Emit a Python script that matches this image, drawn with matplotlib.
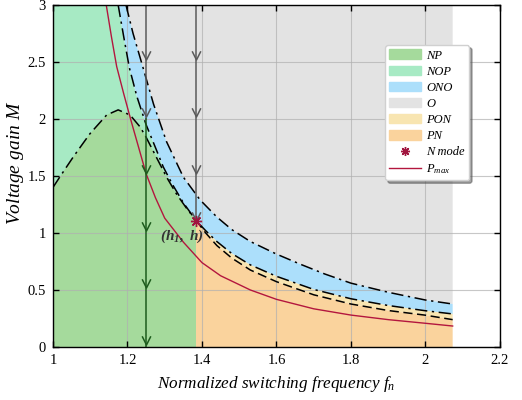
import numpy as np
import matplotlib
matplotlib.use('Agg')
import matplotlib.pyplot as plt
from matplotlib.path import Path
from matplotlib.patches import Patch
from matplotlib.lines import Line2D

plt.rcParams['font.family'] = 'Liberation Serif'
plt.rcParams['mathtext.fontset'] = 'custom'
plt.rcParams['mathtext.rm'] = 'Liberation Serif'
plt.rcParams['mathtext.it'] = 'Liberation Serif:italic'
plt.rcParams['mathtext.bf'] = 'Liberation Serif:italic:bold'

# O / ONO boundary
c1_x = [1.196, 1.215, 1.24, 1.27, 1.305, 1.35, 1.395, 1.44, 1.48, 1.53, 1.60,
        1.665, 1.73, 1.80, 1.90, 2.00, 2.073]
c1_m = [3.0, 2.75, 2.47, 2.13, 1.80, 1.49, 1.29, 1.14, 1.03, 0.925, 0.815,
        0.725, 0.64, 0.56, 0.48, 0.412, 0.377]
# ONO lower boundary
c2_x = [1.175, 1.19, 1.205, 1.225, 1.25, 1.275, 1.296, 1.32, 1.35, 1.384, 1.41,
        1.44, 1.48, 1.53, 1.60, 1.70, 1.80, 1.90, 2.00, 2.073]
c2_m = [3.0, 2.72, 2.45, 2.20, 1.95, 1.75, 1.58, 1.43, 1.265, 1.11, 1.02,
        0.925, 0.82, 0.72, 0.62, 0.505, 0.423, 0.364, 0.318, 0.29]
# PON / PN boundary
c3_x = [1.384, 1.41, 1.44, 1.48, 1.53, 1.60, 1.70, 1.80, 1.90, 2.00, 2.073]
c3_m = [1.11, 1.00, 0.89, 0.78, 0.675, 0.573, 0.458, 0.377, 0.32, 0.279, 0.24]
# NP / NOP boundary
hump_x = [1.0, 1.02, 1.055, 1.099, 1.144, 1.175, 1.207, 1.234, 1.25, 1.283,
          1.305, 1.332, 1.359, 1.384]
hump_m = [1.40, 1.50, 1.67, 1.87, 2.035, 2.08, 2.035, 1.93, 1.84, 1.63,
          1.49, 1.34, 1.215, 1.11]
# P_max
pmax_x = [1.143, 1.157, 1.171, 1.19, 1.21, 1.23, 1.25, 1.275, 1.30, 1.35, 1.40,
          1.45, 1.53, 1.60, 1.70, 1.80, 1.90, 2.00, 2.073]
pmax_m = [3.0, 2.72, 2.46, 2.22, 1.98, 1.75, 1.52, 1.31, 1.13, 0.92, 0.74,
          0.625, 0.50, 0.418, 0.335, 0.28, 0.24, 0.208, 0.184]

nmode_x, nmode_m = 1.384, 1.108
trace_x = [1.25, 1.384]
trace_green_below = 2.0
arrows_a = [2.55, 2.05, 1.55, 1.05, 0.55, 0.05]
arrows_b = [2.55, 2.05, 1.55, 1.14]
x_end = 2.073

col = {'NP': '#a5da9c', 'NOP': '#a7eac4', 'ONO': '#acdffb', 'O': '#e3e3e3',
       'PON': '#f8e5b1', 'PN': '#fad39d'}

fig = plt.figure(figsize=(5.22, 4.0), dpi=100)
ax = fig.add_axes([0.1015, 0.1325, 0.8563, 0.855])

i_star = c2_x.index(nmode_x)
# NOP background
ax.fill([1.0, 1.0] + c2_x[:i_star + 1] + [nmode_x], [0, 3] + c2_m[:i_star + 1] + [0],
        color=col['NOP'], lw=0, zorder=1)
# NP
ax.fill(hump_x + [nmode_x, 1.0], hump_m + [0, 0], color=col['NP'], lw=0, zorder=1)
# O
ax.fill(c1_x + [x_end], c1_m + [3], color=col['O'], lw=0, zorder=1)
# ONO
ax.fill(c1_x + c2_x[::-1], c1_m + c2_m[::-1], color=col['ONO'], lw=0, zorder=1)
# PON
ax.fill(c2_x[i_star:] + c3_x[::-1], c2_m[i_star:] + c3_m[::-1], color=col['PON'], lw=0, zorder=1)
# PN
ax.fill(c3_x + [x_end, nmode_x], c3_m + [0, 0], color=col['PN'], lw=0, zorder=1)

ax.grid(True, color='#b0b0b0', lw=0.8, alpha=0.7, zorder=2)
ax.set_axisbelow(False)

dashdot = (0, (8, 3, 1.5, 3))
ax.plot(c1_x, c1_m, color='k', ls=dashdot, lw=1.1, zorder=4)
ax.plot(c2_x, c2_m, color='k', ls=dashdot, lw=1.1, zorder=4)
ax.plot(c3_x, c3_m, color='k', ls=(0, (6, 3)), lw=1.1, zorder=4)
ax.plot(hump_x, hump_m, color='k', ls=dashdot, lw=1.1, zorder=4)
ax.plot(pmax_x, pmax_m, color='#b3163e', lw=1.0, zorder=5)

chevron = Path([(-0.5, 0.6), (0, -0.4), (0.5, 0.6)],
               [Path.MOVETO, Path.LINETO, Path.LINETO])
grey = '#5a5a5a'
dgreen = '#1d5c1d'
ax.plot([trace_x[0], trace_x[0]], [trace_green_below, 3], color=grey, lw=1.1, zorder=6)
ax.plot([trace_x[0], trace_x[0]], [0, trace_green_below], color=dgreen, lw=1.1, zorder=6)
for m in arrows_a:
    c = grey if m > trace_green_below else dgreen
    ax.plot(trace_x[0], m, marker=chevron, ms=7.5, mfc='none', mec=c, mew=1.1, zorder=6)
ax.plot([trace_x[1], trace_x[1]], [nmode_m, 3], color=grey, lw=1.1, zorder=6)
for m in arrows_b:
    ax.plot(trace_x[1], m, marker=chevron, ms=7.5, mfc='none', mec=grey, mew=1.1, zorder=6)

ax.plot(nmode_x, nmode_m, marker=(8, 2, 0), ms=8, mew=1.0, color='#a0153e', ls='none', zorder=7)
ax.text(1.345, 0.975, r'$\mathbf{(h_1,\ h)}$', fontsize=11, ha='center', va='center', zorder=7,
        color='#333333')

ax.set_xlim(1, 2.2)
ax.set_ylim(0, 3)
ax.set_xticks([1, 1.2, 1.4, 1.6, 1.8, 2, 2.2])
ax.set_xticklabels(['1', '1.2', '1.4', '1.6', '1.8', '2', '2.2'])
ax.set_yticks([0, 0.5, 1, 1.5, 2, 2.5, 3])
ax.set_yticklabels(['0', '0.5', '1', '1.5', '2', '2.5', '3'])
ax.tick_params(direction='in', top=True, right=True, labelsize=10.5, length=4, width=1, pad=5)
for s in ax.spines.values():
    s.set_linewidth(1.0)
    s.set_zorder(8)

ax.set_xlabel(r'Normalized switching frequency $f_n$', fontsize=12.3, style='italic', labelpad=5)
ax.set_ylabel(r'Voltage gain $M$', fontsize=14, style='italic')
ax.yaxis.set_label_coords(-0.06, 0.538)

handles = [Patch(color=col[k]) for k in ['NP', 'NOP', 'ONO', 'O', 'PON', 'PN']]
handles.append(Line2D([], [], marker=(8, 2, 0), ms=6.5, mew=1.0, color='#a0153e', ls='none'))
handles.append(Line2D([], [], color='#b3163e', lw=1.0))
labels = ['NP', 'NOP', 'ONO', 'O', 'PON', 'PN', 'N mode', r'$P_{max}$']
leg = ax.legend(handles, labels, loc='upper left', bbox_to_anchor=(0.743, 0.883),
                prop={'family': 'Liberation Serif', 'style': 'italic', 'size': 9},
                frameon=True, fancybox=True, shadow=True, handlelength=2.5,
                handleheight=0.8, labelspacing=0.32, borderpad=0.35, handletextpad=0.45,
                borderaxespad=0, framealpha=1, edgecolor='#d0d0d0')
leg.set_zorder(9)

fig.savefig('out.png', dpi=100)
